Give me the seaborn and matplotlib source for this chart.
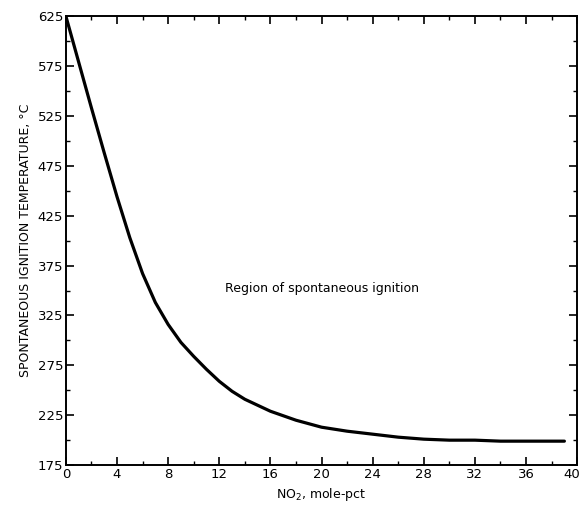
import numpy as np
import pandas as pd
import matplotlib
matplotlib.use("Agg")
import matplotlib.pyplot as plt
import matplotlib.transforms as mtransforms
import seaborn as sns
from matplotlib.ticker import MultipleLocator

# NO2 mole-pct vs spontaneous ignition temperature
no2_pct = [0, 1, 2, 3, 4, 5, 6, 7, 8, 9, 10, 11, 12, 13, 14, 16, 18, 20,
           22, 24, 26, 28, 30, 32, 34, 36, 38, 39]
ign_temp = [625, 579, 533, 488, 444, 403, 367, 338, 316, 298, 284, 271, 259,
            249, 241, 229, 220, 213, 209, 206, 203, 201, 200, 200, 199, 199,
            199, 199]

x_ticks = list(range(0, 41, 4))
y_ticks = list(range(175, 626, 50))

df = pd.DataFrame({"no2": no2_pct, "temp": ign_temp})

sns.set_style("ticks")
plt.rcParams["font.family"] = ["DejaVu Sans"]
plt.rcParams["text.color"] = "black"
plt.rcParams["axes.labelcolor"] = "black"

fig = plt.figure(figsize=(5.83, 5.05), dpi=100)
ax = fig.add_axes([0.113, 0.079, 0.877, 0.889])

sns.lineplot(data=df, x="no2", y="temp", ax=ax, color="black", linewidth=2.3)

ax.set_xlim(0, 40)
ax.set_ylim(175, 625)
ax.set_xticks(x_ticks)
ax.set_yticks(y_ticks)
ax.xaxis.set_minor_locator(MultipleLocator(2))
ax.yaxis.set_minor_locator(MultipleLocator(25))
ax.tick_params(which="both", direction="in", top=True, right=True,
               labelsize=9.5, colors="black", pad=2)
ax.tick_params(which="major", length=6, width=1.2)
ax.tick_params(which="minor", length=3, width=1.0)
for s in ax.spines.values():
    s.set_visible(True)
    s.set_linewidth(1.4)
    s.set_color("black")

# keep the "40" label inside the canvas
last = ax.get_xticklabels()[-1]
last.set_transform(last.get_transform() +
                   mtransforms.ScaledTranslation(-5 / 100, 0, fig.dpi_scale_trans))

ax.set_xlabel("NO$_2$, mole-pct", fontsize=9)
ax.set_ylabel("SPONTANEOUS IGNITION TEMPERATURE, \u00b0C", fontsize=9)
ax.text(20, 352, "Region of spontaneous ignition", ha="center", va="center",
        fontsize=9)

fig.savefig("out.png", dpi=100)
